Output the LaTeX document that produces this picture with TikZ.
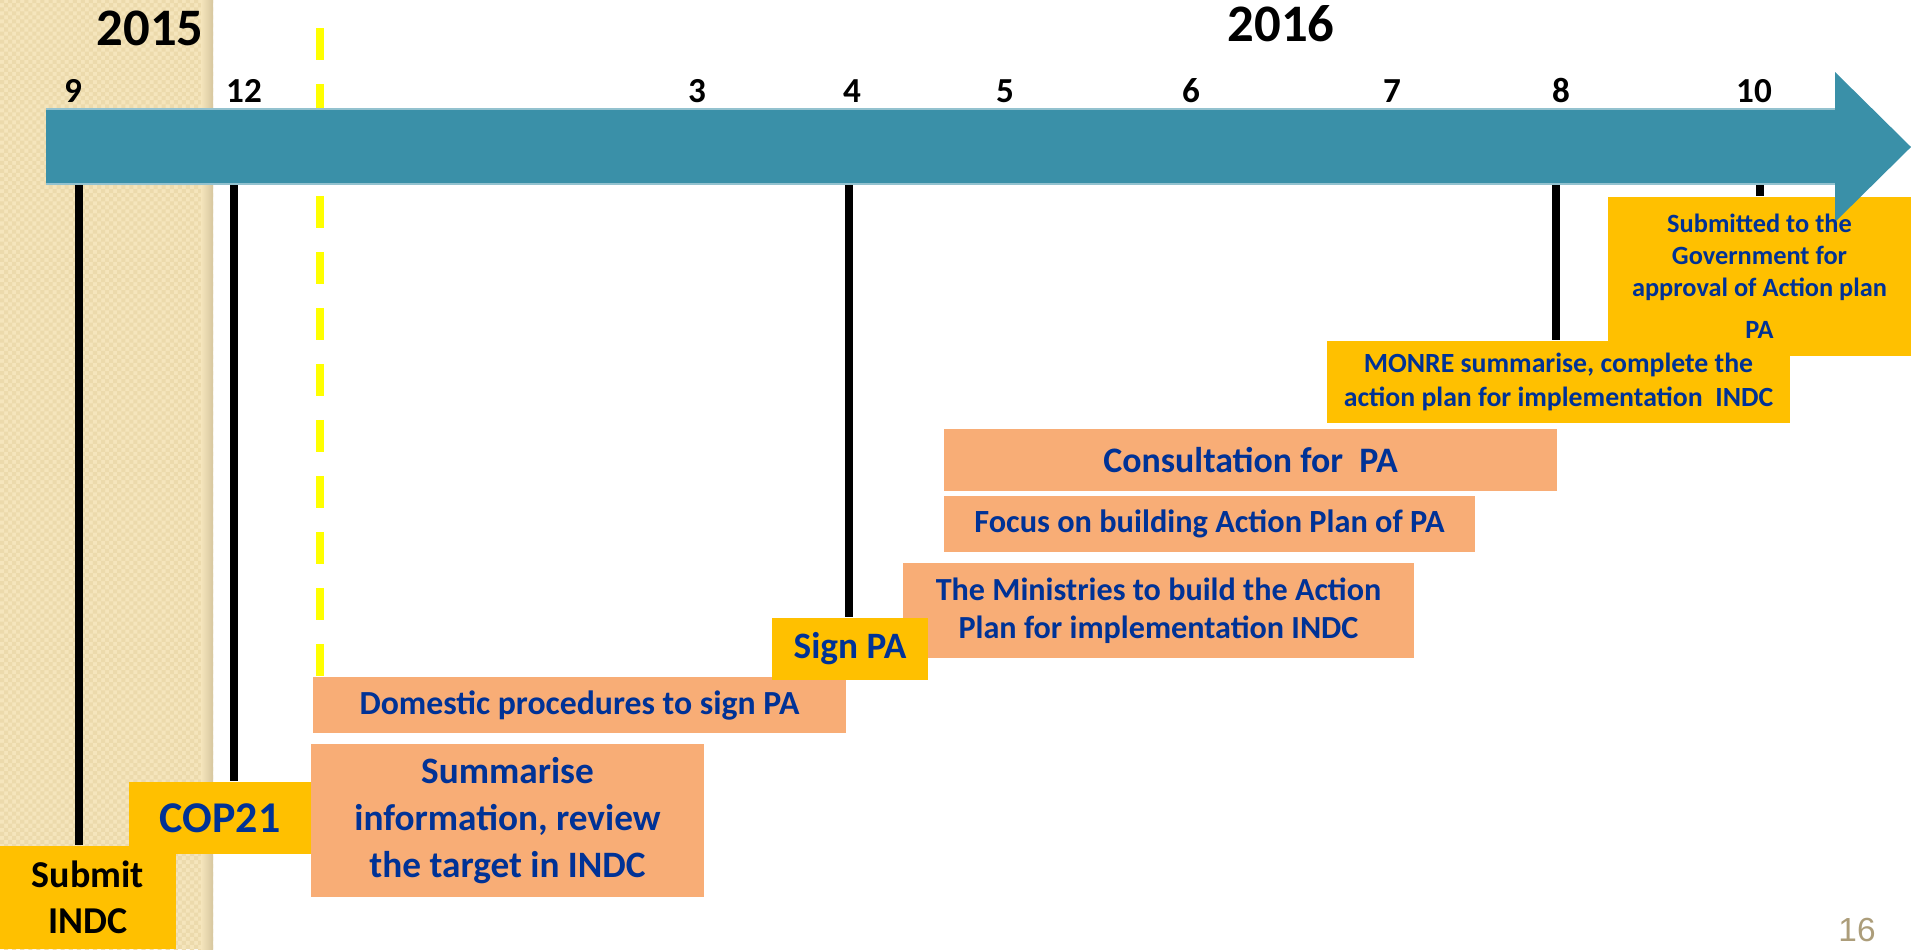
\documentclass[tikz,border=0pt]{standalone}
\usepackage{fontspec}
\setmainfont{Carlito}
\newfontfamily\pagefont{Liberation Sans}
\usetikzlibrary{patterns}

\definecolor{arrowteal}{RGB}{58,144,168}
\definecolor{boxgold}{RGB}{255,192,0}
\definecolor{boxsalmon}{RGB}{248,173,118}
\definecolor{textblue}{RGB}{0,50,150}
\definecolor{panelbeige}{RGB}{245,229,188}
\definecolor{paneldots}{RGB}{236,218,172}
\definecolor{panelshade}{RGB}{214,198,158}
\definecolor{dashyellow}{RGB}{255,255,0}
\definecolor{pagegray}{RGB}{172,157,122}

% small checks for the 2015 panel
\pgfdeclarepatternformonly{finechecks}{\pgfqpoint{-0.5pt}{-0.5pt}}{\pgfqpoint{2.8pt}{2.8pt}}{\pgfqpoint{2.3pt}{2.3pt}}{
	\pgfpathrectangle{\pgfqpoint{0pt}{0pt}}{\pgfqpoint{1.15pt}{1.15pt}}
	\pgfpathrectangle{\pgfqpoint{1.15pt}{1.15pt}}{\pgfqpoint{1.15pt}{1.15pt}}
	\pgfusepath{fill}
}

\tikzset{
  month/.style={font=\fontsize{10}{12}\selectfont\bfseries, anchor=base},
  year/.style={font=\fontsize{15}{18}\selectfont\bfseries, anchor=base},
  goldbox/.style={fill=boxgold, inner sep=0pt, align=center, text=textblue},
  salmonbox/.style={fill=boxsalmon, inner sep=0pt, align=center, text=textblue},
  tick/.style={line width=2.3pt, black},
  dashline/.style={line width=2.3pt, dashyellow, dash pattern=on 9.1pt off 6.83pt}
}

\begin{document}
\begin{tikzpicture}
	\useasboundingbox (0,0) rectangle (19.11,-9.49);

	%2015 panel
	\fill[panelbeige] (0,0) rectangle (2.13,-9.49);
	\fill[pattern=finechecks, pattern color=paneldots] (0,0) rectangle (2.13,-9.49);
	\shade[left color=panelbeige, right color=panelshade] (2.01,0) rectangle (2.13,-9.49);

	%BOXES
	\node[salmonbox, minimum width=3.93cm, minimum height=1.53cm, font=\fontsize{10.6}{13.4}\selectfont\bfseries] (summ) at (5.075,-8.205) {Summarise\\information, review\\the target in INDC};
	\node[salmonbox, minimum width=5.33cm, minimum height=0.56cm, font=\fontsize{9.6}{11}\selectfont\bfseries] (domestic) at (5.795,-7.05) {Domestic procedures to sign PA};
	\node[salmonbox, minimum width=5.11cm, minimum height=0.95cm, font=\fontsize{9.15}{10.9}\selectfont\bfseries] (minis) at (11.585,-6.105) {The Ministries to build the Action\\Plan for implementation INDC};
	\node[salmonbox, minimum width=5.31cm, minimum height=0.56cm, font=\fontsize{9.2}{10.5}\selectfont\bfseries] (focus) at (12.095,-5.24) {Focus on building Action Plan of PA};
	\node[salmonbox, minimum width=6.13cm, minimum height=0.62cm, font=\fontsize{10.2}{12}\selectfont\bfseries] (consult) at (12.505,-4.60) {Consultation for~~PA};
	\node[goldbox, minimum width=1.76cm, minimum height=1.03cm, text=black, font=\fontsize{10.8}{13}\selectfont\bfseries] (submit) at (0.88,-8.975) {Submit\\INDC};
	\node[goldbox, minimum width=1.82cm, minimum height=0.72cm, font=\fontsize{12.5}{14}\selectfont\bfseries] (cop) at (2.20,-8.18) {COP21};
	\node[goldbox, minimum width=1.56cm, minimum height=0.62cm, font=\fontsize{10.6}{12.5}\selectfont\bfseries] (sign) at (8.50,-6.49) {Sign PA};
	\node[goldbox, minimum width=3.03cm, minimum height=1.59cm] (subm) at (17.595,-2.765) {};
	\node[goldbox, minimum width=4.63cm, minimum height=0.82cm, font=\fontsize{7.9}{9.5}\selectfont\bfseries] (monre) at (15.585,-3.82) {MONRE summarise, complete the\\action plan for implementation~~INDC};

	%yellow dashes
	\coordinate (dashtop) at (3.20,-0.28);
	\draw[dashline] (dashtop) -- (dashtop |- domestic.north);

	%month ticks
	\coordinate (t9) at (0.79,-1.47);
	\coordinate (t12) at (2.34,-1.47);
	\coordinate (t4) at (8.49,-1.47);
	\coordinate (t8) at (15.56,-1.47);
	\coordinate (t10) at (17.60,-1.47);
	\draw[tick] (t9) -- (t9 |- submit.north);
	\draw[tick] (t12) -- (t12 |- cop.north);
	\draw[tick] (t4) -- (t4 |- sign.north);
	\draw[tick] (t8) -- (t8 |- monre.north);
	\draw[tick] (t10) -- (t10 |- subm.north);

	%big arrow
	\fill[arrowteal] (0.46,-1.09) -- (18.35,-1.09) -- (18.35,-0.72) -- (19.11,-1.47)
		-- (18.35,-2.22) -- (18.35,-1.84) -- (0.46,-1.84) -- cycle;
	\draw[arrowteal!55!white, line width=0.4pt] (0.46,-1.09) -- (18.35,-1.09);
	\draw[arrowteal!55!white, line width=0.4pt] (0.46,-1.84) -- (18.35,-1.84);

	\node[align=center, text=textblue, font=\fontsize{7.5}{9.1}\selectfont\bfseries] (submtxt) at (subm) {Submitted to the\\Government for\\approval of Action plan\\[2.8pt]PA};

	%LABELS
	\node[year] (y2015) at (1.50,-0.45) {2015};
	\node[year] (y2016) at (12.81,-0.41) {2016};
	\foreach \m/\x in {9/0.73,12/2.44,3/6.97,4/8.52,5/10.05,6/11.91,7/13.92,8/15.61,10/17.54}
		\node[month] (mon\m) at (\x,-1.02) {\m};
	\node[anchor=base, text=pagegray, font=\pagefont\fontsize{9.5}{11}\selectfont] (pagenum) at (18.57,-9.41) {16};
\end{tikzpicture}
\end{document}
